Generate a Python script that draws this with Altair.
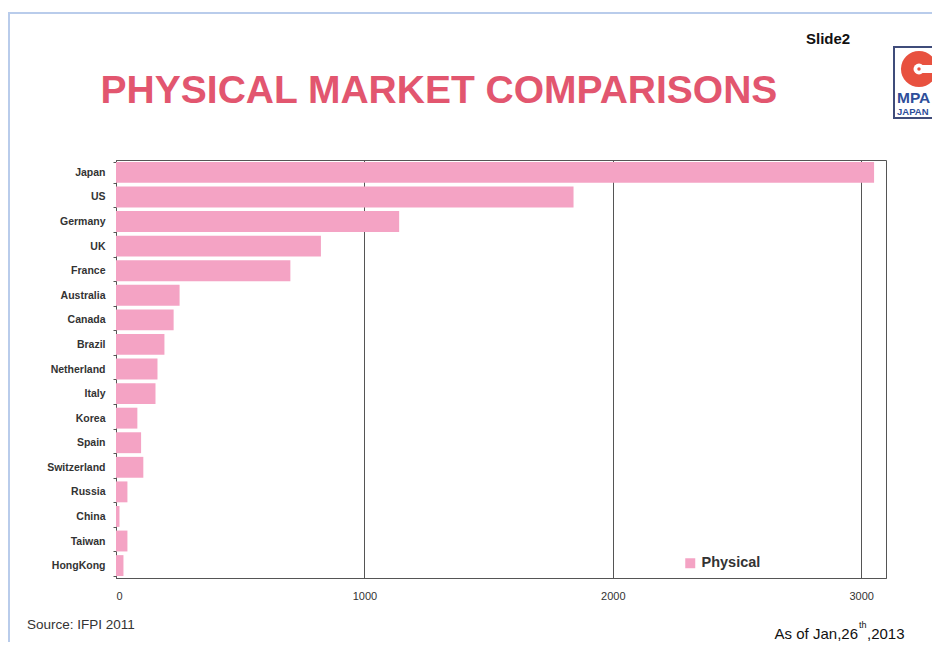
import altair as alt
import pandas as pd

countries = ["Japan", "US", "Germany", "UK", "France", "Australia", "Canada", "Brazil",
             "Netherland", "Italy", "Korea", "Spain", "Switzerland", "Russia", "China",
             "Taiwan", "HongKong"]
physical = [3052, 1842, 1140, 825, 702, 256, 232, 195, 167, 159, 86, 101, 110, 46, 14, 46, 30]
series = ["Physical"] * len(countries)
x_ticks = [0, 1000, 2000, 3000]

BAR = "#F4A3C4"
TITLE_C = "#E2566F"

df = pd.DataFrame({"country": countries, "value": physical, "series": series})

bars = alt.Chart(df).mark_bar(color=BAR).encode(
    x=alt.X("value:Q",
            scale=alt.Scale(domain=[0, 3100], nice=False, zero=True),
            axis=alt.Axis(values=x_ticks, title=None, grid=True, gridColor="#555555",
                          gridWidth=1, gridOpacity=1, ticks=False, labelPadding=12,
                          labelFontSize=11, labelColor="#333333", labelFont="Liberation Sans",
                          domainColor="#555555", format="d")),
    y=alt.Y("country:N", sort=countries,
            scale=alt.Scale(paddingInner=0.15, paddingOuter=0.08),
            axis=alt.Axis(title=None, labelFontSize=10.5, labelFont="Liberation Sans",
                          labelFontWeight="bold", labelColor="#333333", labelPadding=8,
                          ticks=True, tickSize=3, tickBand="extent", tickColor="#555555",
                          domainColor="#555555")),
    color=alt.Color("series:N",
                    scale=alt.Scale(domain=["Physical"], range=[BAR]),
                    legend=alt.Legend(title=None, orient="none", legendX=567, legendY=396,
                                      symbolType="square", symbolSize=100,
                                      symbolStrokeWidth=0, labelFontSize=14.5,
                                      labelFont="Liberation Sans", labelFontWeight="bold",
                                      labelColor="#333333", labelOffset=4)),
)

one = alt.Data(values=[{}])

def txt(text, x, y, size, color="#333333", weight="normal", align="left",
        font="Liberation Sans", baseline="alphabetic"):
    return alt.Chart(one).mark_text(
        text=text, fontSize=size, color=color, fontWeight=weight, align=align,
        font=font, baseline=baseline
    ).encode(x=alt.value(x), y=alt.value(y))

title = txt("PHYSICAL MARKET COMPARISONS", 323, -57, 39, TITLE_C, "bold", "center")
slide = txt("Slide2", 690, -116, 15, "#111111", "bold")
source = txt("Source: IFPI 2011", -89, 469, 13.5, "#333333")
asof1 = txt("As of Jan,26", 742, 479, 15, "#111111", align="right")
asof2 = txt("th", 743, 468, 9, "#111111")
asof3 = txt(",2013", 751, 479, 15, "#111111")

# slide frame (light blue)
frame_v = alt.Chart(one).mark_rect(fill="#B9CCEB").encode(
    x=alt.value(-108), x2=alt.value(-106), y=alt.value(-148), y2=alt.value(500))
frame_h = alt.Chart(one).mark_rect(fill="#B9CCEB").encode(
    x=alt.value(-108), x2=alt.value(830), y=alt.value(-148), y2=alt.value(-146))

# logo
logo_box = alt.Chart(one).mark_rect(fill="white", stroke="#3F4C7A", strokeWidth=2).encode(
    x=alt.value(778), x2=alt.value(840), y=alt.value(-113), y2=alt.value(-42))
logo_circle = alt.Chart(one).mark_point(shape="circle", filled=True, color="#E8513F",
                                        opacity=1, size=1300).encode(
    x=alt.value(803), y=alt.value(-91))
logo_gap = alt.Chart(one).mark_rect(fill="white").encode(
    x=alt.value(803), x2=alt.value(824), y=alt.value(-95), y2=alt.value(-87))
logo_hole = alt.Chart(one).mark_point(shape="circle", filled=True, color="white",
                                      opacity=1, size=120).encode(
    x=alt.value(803), y=alt.value(-91))
logo_dot = alt.Chart(one).mark_point(shape="circle", filled=True, color="#E8513F",
                                     opacity=1, size=12).encode(
    x=alt.value(803), y=alt.value(-91))
logo_mpa = txt("MPA", 781, -57, 15.5, "#2E4E9A", "bold")
logo_japan = txt("JAPAN", 781, -45, 9.5, "#2E4E9A", "bold")

chart = alt.layer(
    frame_v, frame_h, bars, title, slide, source, asof1, asof2, asof3,
    logo_box, logo_circle, logo_gap, logo_hole, logo_dot, logo_mpa, logo_japan
).properties(
    width=770, height=418,
    autosize=alt.AutoSizeParams(type="none"),
    padding={"left": 108, "top": 152, "right": 46, "bottom": 64},
    background="white",
).configure_view(stroke="#555555", strokeWidth=1)

chart.save("out.html", embed_options={"renderer": "svg", "actions": False})
